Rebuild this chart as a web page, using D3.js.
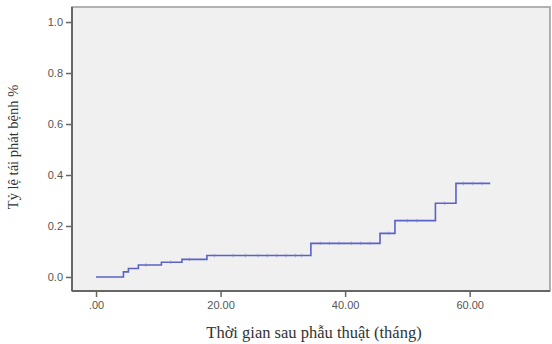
<!DOCTYPE html>
<html><head><meta charset="utf-8">
<script src="https://cdn.jsdelivr.net/npm/d3@7"></script>
<style>body{margin:0;background:#fff;}svg{display:block;}</style>
</head><body>
<svg id="c" width="552" height="344"></svg>
<script>
// Step-function data (cumulative recurrence)
const stepTimes  = [0, 4.4, 5.2, 6.8, 10.5, 13.8, 17.8, 34.5, 45.6, 48.0, 54.5, 57.8, 63.3];
const stepValues = [0, 0.02, 0.033, 0.047, 0.058, 0.069, 0.084, 0.132, 0.171, 0.221, 0.289, 0.367, 0.367];
const censorTimes = [8, 12, 15, 19, 22, 24, 26, 27.5, 29, 30.5, 32, 33, 36, 37.5, 39, 41, 42.5, 44, 47, 50, 51.5, 56, 59, 60.5, 62];
const xTicks = [0, 20, 40, 60];
const xTickLabels = [".00", "20.00", "40.00", "60.00"];
const yTicks = [0, 0.2, 0.4, 0.6, 0.8, 1.0];
const yTickLabels = ["0.0", "0.2", "0.4", "0.6", "0.8", "1.0"];
const xTitle = "Thời gian sau phẫu thuật (tháng)";
const yTitle = "Tỷ lệ tái phát bệnh %";

const svg = d3.select("#c");
const L = 72, R = 550, T = 7, B = 291;
const x = d3.scaleLinear().domain([-3.86, 72.9]).range([L, R]);
const y = d3.scaleLinear().domain([-0.055, 1.059]).range([B, T]);

// plot background
svg.append("rect").attr("x", L).attr("y", T).attr("width", R - L).attr("height", B - T)
  .attr("fill", "#f0f0f0").attr("stroke", "#9a9a9a").attr("stroke-width", 1.5);

// axes
const yAxis = d3.axisLeft(y).tickValues(yTicks).tickFormat((d, i) => yTickLabels[i]).tickSize(6).tickPadding(3);
const gy = svg.append("g").attr("transform", `translate(${L},0)`).call(yAxis);
const xAxis = d3.axisBottom(x).tickValues(xTicks).tickFormat((d, i) => xTickLabels[i]).tickSize(6).tickPadding(4);
const gx = svg.append("g").attr("transform", `translate(0,${B})`).call(xAxis);
[gx, gy].forEach(g => {
  g.select(".domain").remove();
  g.selectAll(".tick line").attr("stroke", "#666").attr("stroke-width", 1.5);
  g.selectAll(".tick text").attr("fill", "#555").attr("font-family", "Liberation Sans, Arial, sans-serif").attr("font-size", 11);
});
svg.append("line").attr("x1", L).attr("x2", L).attr("y1", T).attr("y2", B).attr("stroke", "#666").attr("stroke-width", 2);
svg.append("line").attr("x1", L).attr("x2", R).attr("y1", B).attr("y2", B).attr("stroke", "#666").attr("stroke-width", 2);

// step line
const pts = stepTimes.map((t, i) => [t, stepValues[i]]);
const line = d3.line().x(d => x(d[0])).y(d => y(d[1])).curve(d3.curveStepAfter);
svg.append("path").datum(pts).attr("d", line).attr("fill", "none")
  .attr("stroke", "#5a62c6").attr("stroke-width", 1.6);

// censor marks (faint)
const valAt = t => { let v = 0; for (let i = 0; i < stepTimes.length; i++) if (stepTimes[i] <= t) v = stepValues[i]; return v; };
svg.append("g").selectAll("line").data(censorTimes).join("line")
  .attr("x1", d => x(d)).attr("x2", d => x(d))
  .attr("y1", d => y(valAt(d)) - 1.8).attr("y2", d => y(valAt(d)) + 1.8)
  .attr("stroke", "#7a80d0").attr("stroke-opacity", 0.6).attr("stroke-width", 1);

// titles
svg.append("text").attr("x", 314).attr("y", 338).attr("text-anchor", "middle")
  .attr("font-family", "Liberation Serif, Times New Roman, serif").attr("font-size", 16.5).attr("fill", "#333").text(xTitle);
svg.append("text").attr("transform", "translate(18,147) rotate(-90)").attr("text-anchor", "middle")
  .attr("font-family", "Liberation Serif, Times New Roman, serif").attr("font-size", 14.5).attr("fill", "#333").text(yTitle);
</script>
</body></html>
